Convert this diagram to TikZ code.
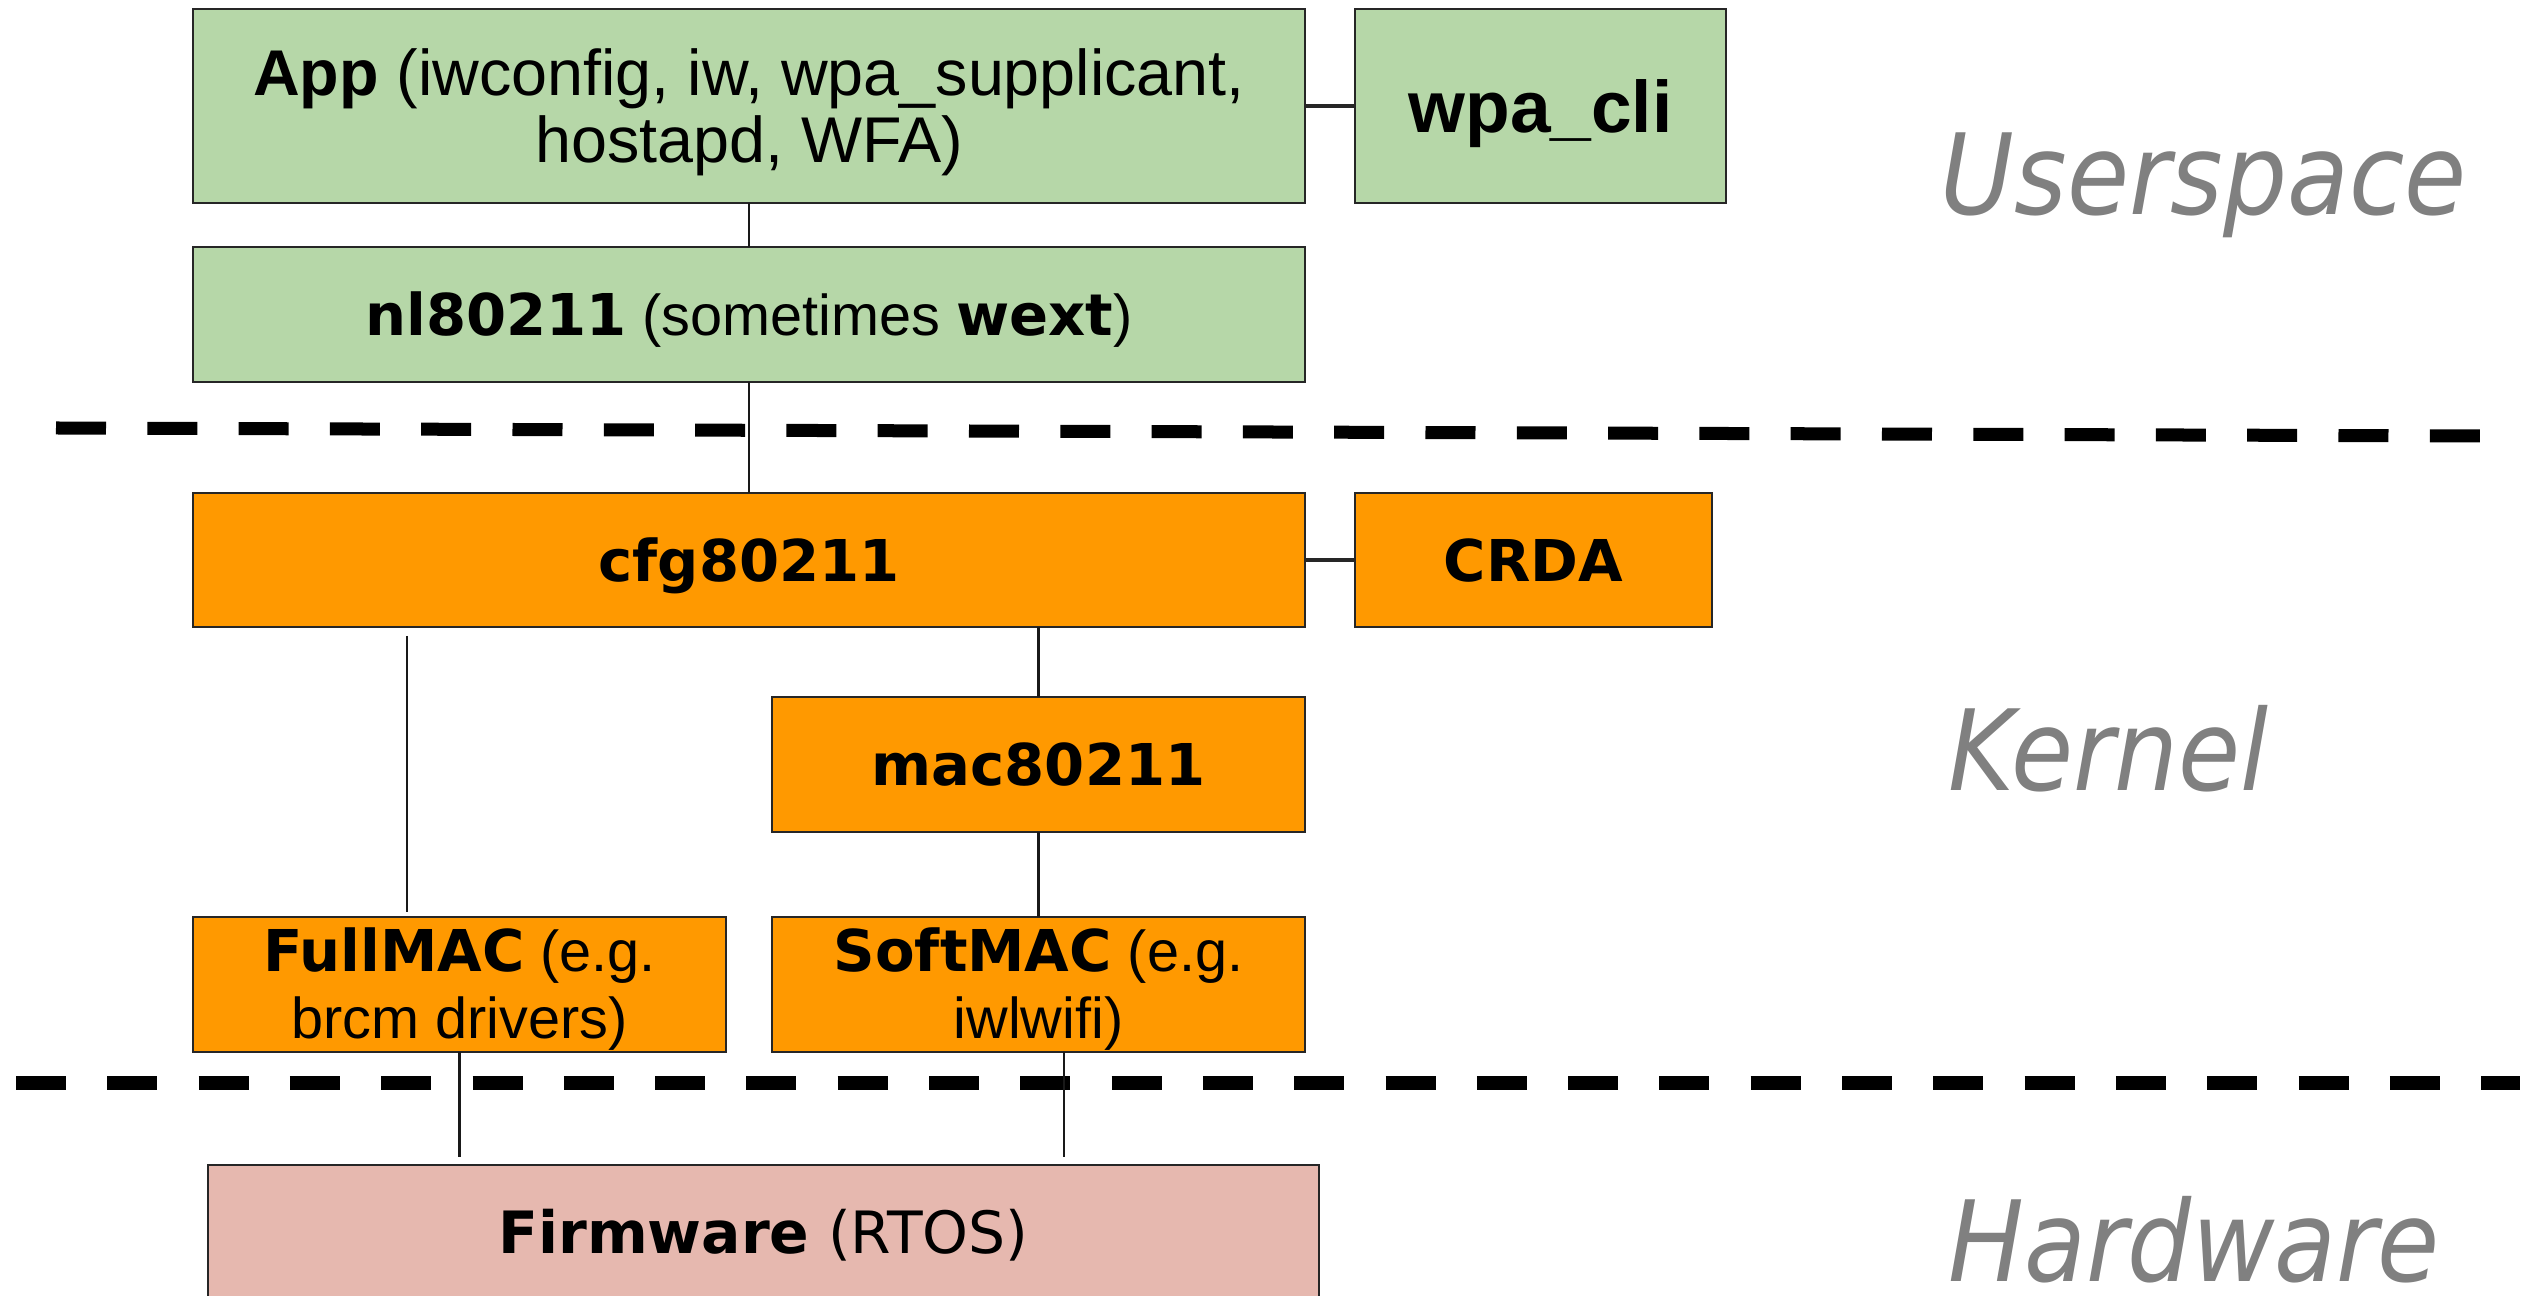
\documentclass[tikz,border=0pt]{standalone}
\usepackage{fontspec}
\newfontfamily\sansA{Liberation Sans}
\newfontfamily\sansV{DejaVu Sans}
\newfontfamily\layerfont[FakeStretch=0.9]{DejaVu Sans}
\definecolor{userfill}{HTML}{B6D7A8}
\definecolor{kernfill}{HTML}{FF9900}
\definecolor{hwfill}{HTML}{E6B8AF}
\definecolor{layergray}{HTML}{808080}
\newcommand\verdb[1]{{\sansV\bfseries #1}}
% invisible struts fixing the extent of two-line box texts
\newcommand\topstrut[1]{\rule{0pt}{#1}}
\newcommand\botstrut[1]{\rule[-#1]{0pt}{#1}}
\tikzset{
  blk/.style={draw=black!85, line width=0.8pt, inner sep=0pt, outer sep=0pt, align=center},
  user/.style={blk, fill=userfill},
  kern/.style={blk, fill=kernfill},
  hw/.style={blk, fill=hwfill},
  oneline/.style={text height=#1, text depth=0pt},
  boxtext/.style={font=\sansA\fontsize{16.4pt}{18.8pt}\selectfont},
  boldtext/.style={font=\sansV\bfseries\fontsize{16.4pt}{18.8pt}\selectfont},
  link/.style={draw=black!90, line width=0.65pt},
  sidelink/.style={draw=black!85, line width=1pt},
  divider/.style={line width=3.7pt, dash pattern=on 5mm off 4.13mm},
  layer/.style={text=layergray, font=\layerfont\itshape\fontsize{31.9pt}{32pt}\selectfont,
    anchor=base west, inner sep=0pt, text depth=0pt},
}
\begin{document}
\begin{tikzpicture}[x=0.1mm, y=-0.1mm]
  \useasboundingbox (0,0) rectangle (2529,1296);
  \clip (0,0) rectangle (2529,1296);

  % layer separators
  \draw[divider] (56,428) -- (2484,436);
  \draw[divider] (16,1083) -- (2520,1083);

  % userspace
  \node[user, minimum width=111.2mm, minimum height=19.4mm,
        font=\sansA\fontsize{18.4pt}{19.3pt}\selectfont] (app) at (749,106)
    {\topstrut{6.6mm}\textbf{App} (iwconfig, iw, wpa\_supplicant,\\hostapd, WFA)\botstrut{2mm}};
  \node[user, oneline=14.9pt, minimum width=37.1mm, minimum height=19.4mm,
        font=\sansA\bfseries\fontsize{20.8pt}{22pt}\selectfont] (wpacli) at (1540.5,106)
    {wpa\_cli};
  \node[user, oneline=12pt, boxtext, minimum width=111.2mm, minimum height=13.5mm] (nl) at (749,314.5)
    {\verdb{nl80211} (sometimes \verdb{wext})};

  % kernel
  \node[kern, oneline=12pt, boldtext, minimum width=111.2mm, minimum height=13.4mm] (cfg) at (749,560)
    {cfg80211};
  \node[kern, oneline=12pt, boldtext, minimum width=35.7mm, minimum height=13.4mm] (crda) at (1533.5,560)
    {CRDA};
  \node[kern, oneline=12pt, boldtext, minimum width=53.3mm, minimum height=13.5mm] (mac) at (1038.5,764.5)
    {mac80211};
  \node[kern, boxtext, minimum width=53.3mm, minimum height=13.5mm] (full) at (459.5,984.5)
    {\topstrut{5.4mm}\verdb{FullMAC} (e.g.\\brcm drivers)\botstrut{1.3mm}};
  \node[kern, boxtext, minimum width=53.3mm, minimum height=13.5mm] (soft) at (1038.5,984.5)
    {\topstrut{5.4mm}\verdb{SoftMAC} (e.g.\\iwlwifi)\botstrut{1.3mm}};

  % hardware
  \node[hw, oneline=12.1pt, font=\sansV\fontsize{16.6pt}{18pt}\selectfont,
        minimum width=111.1mm, minimum height=13.5mm] (fw) at (763.5,1232.5)
    {\textbf{Firmware} (RTOS)};

  % connectors
  \coordinate (fl) at (407,0);
  \coordinate (sl) at (1064,0);
  \draw[link] (app.south) -- (nl.north);
  \draw[link] (nl.south) -- (cfg.north);
  \draw[sidelink] (app.east) -- (wpacli.west);
  \draw[sidelink] (cfg.east) -- (crda.west);
  \draw[link] (cfg.south -| mac.north) -- (mac.north);
  \draw[link] (mac.south) -- (soft.north);
  \draw[link, shorten <=0.9mm, shorten >=0.5mm] (cfg.south -| fl) -- (full.north -| fl);
  \draw[link, shorten >=0.8mm] (full.south) -- (full.south |- fw.north);
  \draw[link, shorten >=0.8mm] (soft.south -| sl) -- (fw.north -| sl);

  % layer labels
  \node[layer] (luser) at (1940,215) {Userspace};
  \node[layer] (lkern) at (1948,791) {Kernel};
  \node[layer] (lhw) at (1948,1281) {Hardware};
\end{tikzpicture}
\end{document}
